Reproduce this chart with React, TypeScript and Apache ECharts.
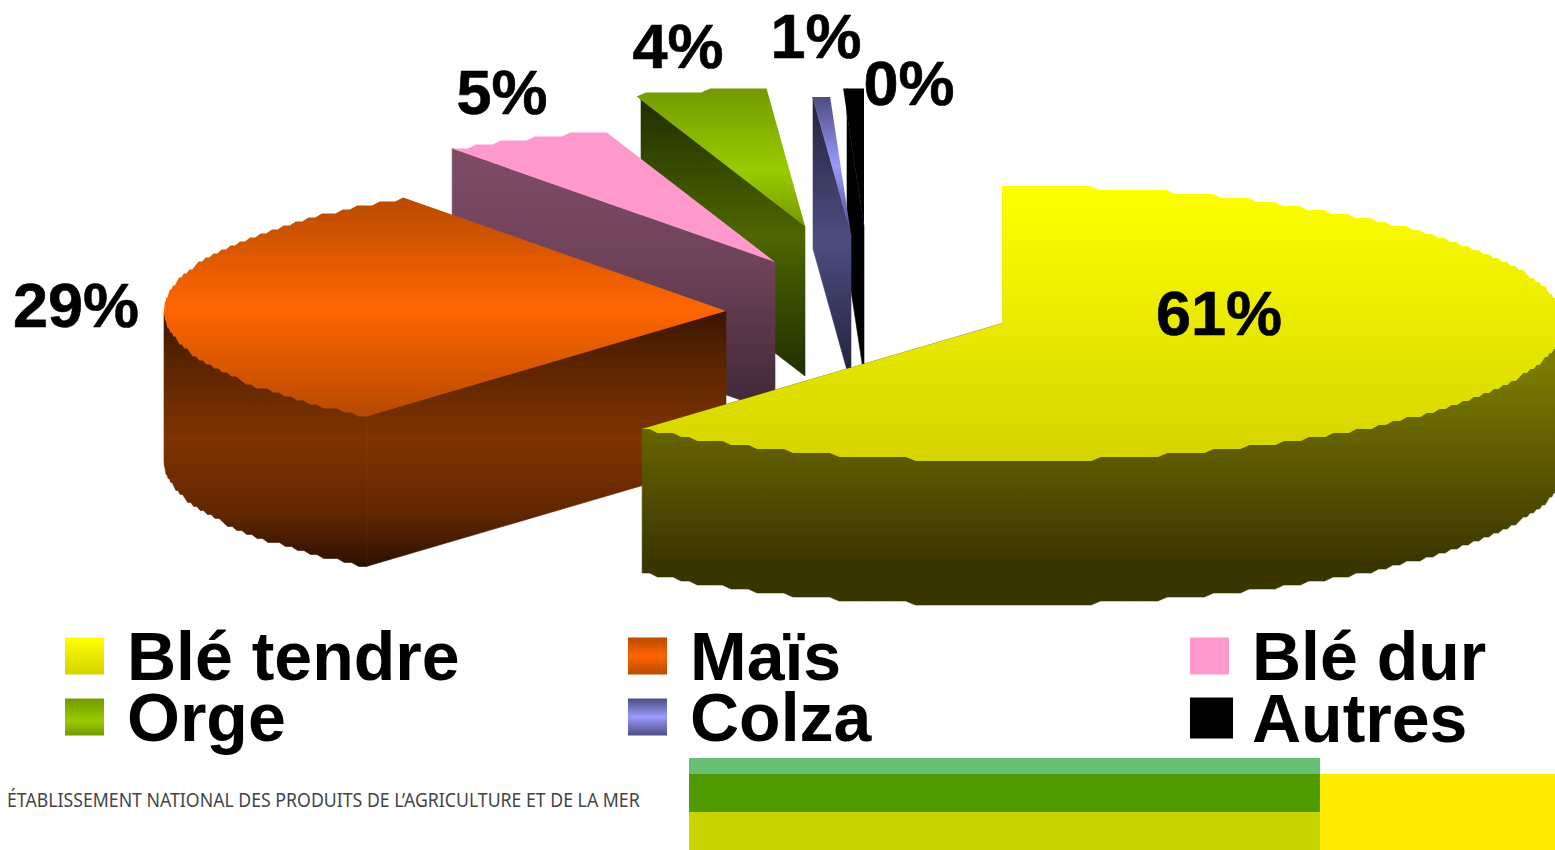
import React, { useEffect, useRef } from "react";
import * as echarts from "echarts";

const categories = ["Blé tendre", "Maïs", "Blé dur", "Orge", "Colza", "Autres"];
const values = [61.06, 29.2, 4.9, 3.75, 0.5, 0.59];
const percentLabels = ["61%", "29%", "5%", "4%", "1%", "0%"];

// Exploded-slice layout (not data)
const RX = 562;
const RY = 137.5;
const STEP = 4;
const centers = [[1002, 323.5], [726, 311], [775, 262], [805, 226], [851, 234.5], [864, 226]];
const depths = [144, 150, 150, 150, 150, 150];
const topMinX = [0, 164, 452, 0, 0, 0];
const wallMinX = [0, 164, 452, 641, 813, 847];
const labelPos = [[1219, 313], [76, 305], [502, 92], [678, 46], [816, 36], [909, 83]];
const topStops: [number, string][][] = [
  [[0, "#ffff00"], [1, "#d4d400"]],
  [[0, "#b84a00"], [0.5, "#ff6600"], [1, "#b84a00"]],
  [[0, "#ff99cc"], [1, "#ff99cc"]],
  [[0, "#739900"], [0.6, "#99cc00"], [1, "#739900"]],
  [[0, "#4d4d80"], [0.5, "#9999ff"], [1, "#4d4d80"]],
  [[0, "#000000"], [1, "#000000"]],
];
const wallStops: [number, string][][] = [
  [[0, "#827f00"], [0.17, "#7a7a00"], [0.64, "#4f4a00"], [0.85, "#3a3500"], [1, "#393500"]],
  [[0, "#3a1600"], [0.2, "#5a2400"], [0.5, "#7f3300"], [0.8, "#602600"], [1, "#2c1000"]],
  [[0, "#7f4c66"], [0.45, "#6e4259"], [0.85, "#4a2f3f"], [1, "#402638"]],
  [[0, "#1f2e00"], [0.5, "#4d6600"], [1, "#1f2e00"]],
  [[0, "#232340"], [0.5, "#4d4d80"], [1, "#1f1f3a"]],
  [[0, "#000000"], [1, "#000000"]],
];
const legendBoxes = [
  { left: 65, top: 622, w: 39, h: 37, gap: 18 },
  { left: 628, top: 622, w: 39, h: 37, gap: 18 },
  { left: 1190, top: 622, w: 39, h: 37, gap: 18 },
  { left: 65, top: 683, w: 39, h: 37, gap: 18 },
  { left: 628, top: 683, w: 39, h: 37, gap: 18 },
  { left: 1190, top: 684, w: 43, h: 41, gap: 14 },
];
const bands = [
  { x: 689, y: 758, w: 631, h: 16, c: "#66bf73" },
  { x: 689, y: 774, w: 631, h: 38, c: "#4f9a00" },
  { x: 689, y: 812, w: 631, h: 38, c: "#c9d400" },
  { x: 1320, y: 774, w: 235, h: 76, c: "#ffec00" },
];
const footer = "ÉTABLISSEMENT NATIONAL DES PRODUITS DE L’AGRICULTURE ET DE LA MER";

const total = values.reduce((a, b) => a + b, 0);
const toAngle = (v: number) => echarts.number.linearMap(v, [0, total], [0, 360], true);
const starts: number[] = [];
values.reduce((acc, v, i) => {
  starts[i] = acc;
  return acc + v;
}, 0);

const rad = (d: number) => (d * Math.PI) / 180;

// The source drawing is low resolution: the rim runs in small steps counted from its extreme.
function rimY(a: number) {
  const raw = -RY * Math.cos(rad(a));
  const sign = raw < 0 ? -1 : 1;
  return sign * (RY - Math.round((RY - Math.abs(raw)) / STEP) * STEP);
}

function arcPoints(cx: number, cy: number, a0: number, a1: number, dy: number, minX: number) {
  const pts: number[][] = [];
  const n = Math.max(1, Math.ceil(a1 - a0));
  for (let k = 0; k <= n; k++) {
    const a = a0 + ((a1 - a0) * k) / n;
    pts.push([Math.max(minX, cx + RX * Math.sin(rad(a))), cy + rimY(a) + dy]);
  }
  return pts;
}

const grad = (pts: number[][], stops: [number, string][]) => {
  const ys = pts.map((p) => p[1]);
  return new echarts.graphic.LinearGradient(
    0, Math.min(...ys), 0, Math.max(...ys),
    stops.map(([offset, color]) => ({ offset, color })),
    true
  );
};

function sliceItem(i: number) {
  return () => {
    const [cx, cy] = centers[i];
    const a0 = toAngle(starts[i]);
    const a1 = toAngle(starts[i] + values[i]);
    const d = depths[i];
    const children: any[] = [];
    const walls: number[][][] = [];
    const minX = wallMinX[i];
    const w0 = Math.max(a0, 90);
    const w1 = Math.min(a1, 270);
    if (w1 > w0) {
      const upper = arcPoints(cx, cy, w0, w1, 0, minX);
      const lower = arcPoints(cx, cy, w0, w1, d, minX);
      // the upper edge runs through the centre, under the top face, so no gap can show
      walls.push([upper[0], [cx, cy], upper[upper.length - 1], ...lower.reverse()]);
    }
    if (a0 > 180) {
      const raw = [cx + RX * Math.sin(rad(a0)), cy + rimY(a0)];
      const t = raw[0] < minX ? (minX - raw[0]) / (cx - raw[0]) : 0;
      const cut = [Math.max(minX, raw[0]), raw[1] + (cy - raw[1]) * t];
      const outer = [cut[0], raw[1]];
      walls.push([outer, cut, [cx, cy], [cx, cy + d], [cut[0], cut[1] + d], [outer[0], outer[1] + d]]);
    }
    const allWall = walls.flat();
    const wallFill = allWall.length ? grad(allWall, wallStops[i]) : "#000";
    walls.forEach((pts) => {
      children.push({
        type: "polygon",
        shape: { points: pts },
        style: { fill: wallFill, stroke: wallFill, lineWidth: 0.6 },
      });
    });
    const top = [[cx, cy], ...arcPoints(cx, cy, a0, a1, 0, topMinX[i])];
    children.push({ type: "polygon", shape: { points: top }, style: { fill: grad(top, topStops[i]) } });
    children.push({
      type: "text",
      x: labelPos[i][0],
      y: labelPos[i][1],
      style: {
        text: percentLabels[i],
        fontFamily: "Liberation Sans",
        fontWeight: "bold",
        fontSize: 63,
        fill: "#000",
        stroke: "#000",
        lineWidth: 0.6,
        textAlign: "center",
        textVerticalAlign: "middle",
      },
    });
    return { type: "group", children };
  };
}

const legendColor = (i: number) =>
  new echarts.graphic.LinearGradient(0, 0, 0, 1, topStops[i].map(([offset, color]) => ({ offset, color })));

const drawOrder = categories.map((_, i) => i).reverse();

export default function App() {
  const ref = useRef<HTMLDivElement>(null);
  useEffect(() => {
    const chart = echarts.init(ref.current!, null, { renderer: "svg" });
    chart.setOption({
      animation: false,
      backgroundColor: "#ffffff",
      legend: categories.map((name, i) => ({
        data: [{ name, icon: "rect", itemStyle: { color: legendColor(i) } }],
        left: legendBoxes[i].left,
        top: legendBoxes[i].top,
        padding: 0,
        itemWidth: legendBoxes[i].w,
        itemHeight: legendBoxes[i].h,
        selectedMode: false,
        textStyle: {
          color: "#000",
          fontFamily: "Liberation Sans",
          fontWeight: "bold",
          fontSize: 68,
          lineHeight: 58,
          padding: [0, 0, 0, legendBoxes[i].gap],
        },
      })),
      series: drawOrder.map((i) => ({
        type: "custom",
        name: categories[i],
        coordinateSystem: "none",
        silent: true,
        data: [values[i]],
        renderItem: sliceItem(i),
      })),
      graphic: [
        ...bands.map((b) => ({
          type: "rect",
          shape: { x: b.x, y: b.y, width: b.w, height: b.h },
          style: { fill: b.c },
          silent: true,
        })),
        {
          type: "text",
          x: 7,
          y: 799.5,
          scaleX: 0.885,
          style: {
            text: footer,
            fontFamily: "Noto Sans",
            fontSize: 20,
            fill: "#444444",
            textVerticalAlign: "middle",
          },
        },
      ],
    });
    return () => chart.dispose();
  }, []);
  return <div ref={ref} style={{ position: "absolute", left: 0, top: 0, width: 1555, height: 850 }} />;
}
